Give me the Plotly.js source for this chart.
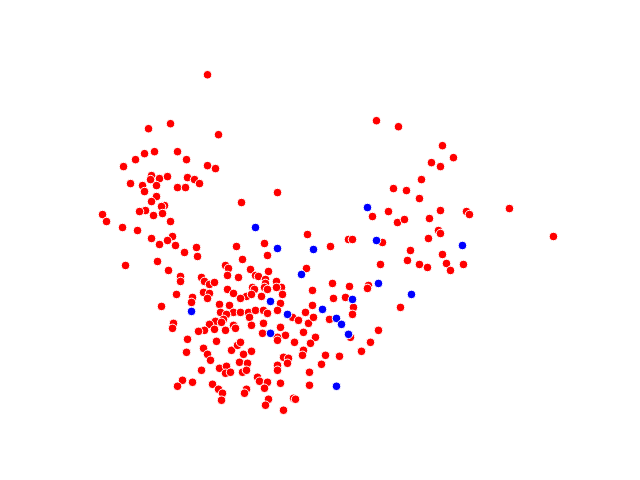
<!DOCTYPE html>
<html><head><meta charset="utf-8">
<script src="https://cdn.plot.ly/plotly-3.0.1.min.js"></script>
<style>body{margin:0;}#chart{width:640px;height:480px;}</style>
</head><body><div id="chart"></div>
<script>
const redX = [207,170,148,218,154,144,177,135,186,123,207,215,151,159,167,150,130,142,156,187,194,177,185,199,
144,156,151,164,161,145,139,153,162,102,106,170,122,137,151,172,167,159,175,196,184,197,157,125,168,180,180,201,204,209,214,176,192,203,209,191,207,
277,241,307,264,330,236,267,242,306,225,228,227,250,238,268,255,258,265,265,276,281,276,332,312,227,252,254,264,267,282,233,246,240,251,261,333,
280,229,233,240,248,249,255,263,267,277,292,298,305,251,263,262,280,285,277,233,235,303,308,
161,219,220,226,223,215,221,209,204,214,198,173,172,225,187,
216,203,207,186,210,231,201,219,226,225,182,177,192,212,218,222,221,
237,240,243,251,239,247,242,246,230,277,294,283,288,287,277,277,303,302,257,259,267,264,280,246,244,268,265,293,295,283,309,309,
349,368,367,345,312,353,352,400,313,329,378,350,315,310,370,361,325,339,321,
393,406,419,388,372,397,404,429,440,466,469,509,438,440,428,348,352,382,553,410,407,442,419,427,446,450,463,380,
376,398,442,453,431,440,421];
const redY = [74,123,128,134,151,153,151,159,159,166,165,168,175,178,176,179,183,185,185,177,179,187,187,183,
191,196,201,205,206,210,211,215,213,214,221,221,227,230,238,236,240,244,245,247,252,256,261,265,270,276,281,277,281,284,282,294,297,292,293,302,298,
192,202,234,243,246,246,255,259,268,265,268,275,269,277,271,275,276,279,283,281,287,287,283,290,289,287,289,287,289,294,293,296,298,294,296,298,
303,305,312,312,312,317,310,310,313,310,317,320,312,325,323,333,327,335,337,325,328,332,323,
306,304,312,314,319,321,322,324,330,329,331,323,328,330,339,
341,348,354,352,360,350,370,368,366,373,380,386,382,384,389,393,400,
345,342,354,351,362,363,372,370,372,340,342,357,358,363,365,370,350,355,377,381,382,388,383,389,393,399,405,398,399,410,372,385,
286,285,288,297,305,307,314,307,317,319,330,337,337,343,342,351,355,356,364,
188,190,198,211,216,222,219,218,210,211,214,208,230,233,238,239,239,242,236,250,260,254,264,267,263,270,264,264,
120,126,145,157,162,166,179];
const blueX = [255,277,313,301,270,191,287,270,378,411,352,322,336,341,348,336,367,376,462];
const blueY = [227,248,249,274,301,311,314,333,283,294,299,309,318,324,334,386,207,240,245];

const allX = redX.concat(blueX), allY = redY.concat(blueY);
function padRange(a){const mn=Math.min(...a),mx=Math.max(...a),p=(mx-mn)*0.05;return [mn-p,mx+p];}
const xr = padRange(allX), yr = padRange(allY);

const mk = (c)=>({color:c,size:8.5,line:{color:'white',width:1}});
const data = [
  {x:redX,y:redY,type:'scatter',mode:'markers',marker:mk('#ff0000'),hoverinfo:'skip'},
  {x:blueX,y:blueY,type:'scatter',mode:'markers',marker:mk('#0000ff'),hoverinfo:'skip'}
];
const layout = {
  width:640,height:480,showlegend:false,
  margin:{l:80,r:64,t:58,b:53,pad:0},
  paper_bgcolor:'white',plot_bgcolor:'white',
  xaxis:{visible:false,range:xr},
  yaxis:{visible:false,range:[yr[1],yr[0]]}
};
Plotly.newPlot('chart',data,layout,{displayModeBar:false,staticPlot:true});
</script></body></html>
